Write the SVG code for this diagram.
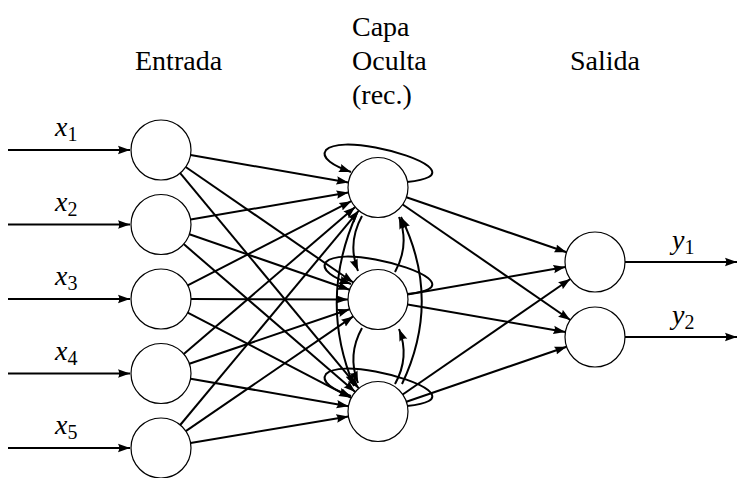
<svg xmlns="http://www.w3.org/2000/svg" width="737" height="478" viewBox="0 0 737 478">
<defs>
<marker id="ah" markerUnits="userSpaceOnUse" markerWidth="13" markerHeight="10" viewBox="0 0 13 10" refX="12" refY="5" orient="auto">
<path d="M0,0.8 L12,5 L0,9.2 Q2.5,5 0,0.8 z" fill="#000"/>
</marker>
<style>
.node{fill:#fff;stroke:#000;stroke-width:1.2}
.e{fill:none;stroke:#000;stroke-width:2;marker-end:url(#ah)}
text{font-family:"Liberation Serif",Tinos,"Times New Roman",Times,"DejaVu Serif",serif;fill:#000}
.t{font-size:28px}
.m{font-style:italic;font-size:28px}
.s{font-style:normal;font-size:20px}
</style>
</defs>
<g id="titles">
<text class="t" x="135" y="70" font-family="Liberation Serif">Entrada</text>
<text class="t" x="352" y="36" font-family="Liberation Serif">Capa</text>
<text class="t" x="352" y="70" font-family="Liberation Serif">Oculta</text>
<text class="t" x="352" y="104" font-family="Liberation Serif">(rec.)</text>
<text class="t" x="570" y="70" font-family="Liberation Serif">Salida</text>
</g>
<g id="connectors">
<path class="e" d="M8 150 H130"/>
<path class="e" d="M8 224.5 H130"/>
<path class="e" d="M8 299 H130"/>
<path class="e" d="M8 373.5 H130"/>
<path class="e" d="M8 448 H130"/>
<path class="e" d="M190.6 155.1 L348.4 182.4"/>
<path class="e" d="M185.7 167 L353.3 282.5"/>
<path class="e" d="M180.2 173.1 L358.8 388.4"/>
<path class="e" d="M190.6 219.5 L348.4 192.5"/>
<path class="e" d="M189.4 234.3 L349.6 289.7"/>
<path class="e" d="M183.7 244.1 L355.3 391.9"/>
<path class="e" d="M187.7 285.3 L351.3 201.2"/>
<path class="e" d="M191 299.1 L348 299.4"/>
<path class="e" d="M187.7 312.7 L351.3 397.8"/>
<path class="e" d="M183.8 354 L355.2 207"/>
<path class="e" d="M189.4 363.8 L349.6 309.2"/>
<path class="e" d="M190.6 378.7 L348.5 406.3"/>
<path class="e" d="M180.2 425 L358.8 210.6"/>
<path class="e" d="M185.8 431.1 L353.2 316.4"/>
<path class="e" d="M190.6 443 L348.4 416.5"/>
<path class="e" d="M406.4 197.2 L566.6 252.3"/>
<path class="e" d="M402.7 204.5 L570.3 320"/>
<path class="e" d="M407.6 294.4 L565.4 267.1"/>
<path class="e" d="M407.6 304.6 L565.4 331.9"/>
<path class="e" d="M402.7 394.5 L570.3 279"/>
<path class="e" d="M406.4 401.8 L566.6 346.7"/>
<path class="e" d="M625 262 H737"/>
<path class="e" d="M625 337 H737"/>
<path class="e" d="M407 182 C425 180 440 176 428 166 C410 152 340 136 326 150 C320 158 334 166 351 172"/>
<path class="e" d="M407 294 C425 292 440 288 428 278 C410 264 340 248 326 262 C320 270 334 278 351 284"/>
<path class="e" d="M407 406 C425 404 440 400 428 390 C410 376 340 360 326 374 C320 382 334 390 351 396"/>
<path class="e" d="M362 216 Q347 243 358 271"/>
<path class="e" d="M395 272 Q410 245 399 217"/>
<path class="e" d="M362 328 Q347 355 358 383"/>
<path class="e" d="M395 384 Q410 357 399 329"/>
<path class="e" d="M357 213 Q318 300 354 386"/>
<path class="e" d="M402 384 Q442 300 401 217"/>
</g>
<g id="in1"><circle class="node" cx="161" cy="150" r="30"/><text class="m" x="55" y="136">x<tspan class="s" dy="5">1</tspan></text></g>
<g id="in2"><circle class="node" cx="161" cy="224.5" r="30"/><text class="m" x="55" y="210.5">x<tspan class="s" dy="5">2</tspan></text></g>
<g id="in3"><circle class="node" cx="161" cy="299" r="30"/><text class="m" x="55" y="285">x<tspan class="s" dy="5">3</tspan></text></g>
<g id="in4"><circle class="node" cx="161" cy="373.5" r="30"/><text class="m" x="55" y="359.5">x<tspan class="s" dy="5">4</tspan></text></g>
<g id="in5"><circle class="node" cx="161" cy="448" r="30"/><text class="m" x="55" y="434">x<tspan class="s" dy="5">5</tspan></text></g>
<g id="h1"><circle class="node" cx="378" cy="187.5" r="30"/></g>
<g id="h2"><circle class="node" cx="378" cy="299.5" r="30"/></g>
<g id="h3"><circle class="node" cx="378" cy="411.5" r="30"/></g>
<g id="out1"><circle class="node" cx="595" cy="262" r="30"/><text class="m" x="672" y="249">y<tspan class="s" dy="5">1</tspan></text></g>
<g id="out2"><circle class="node" cx="595" cy="337" r="30"/><text class="m" x="672" y="324">y<tspan class="s" dy="5">2</tspan></text></g>
</svg>
